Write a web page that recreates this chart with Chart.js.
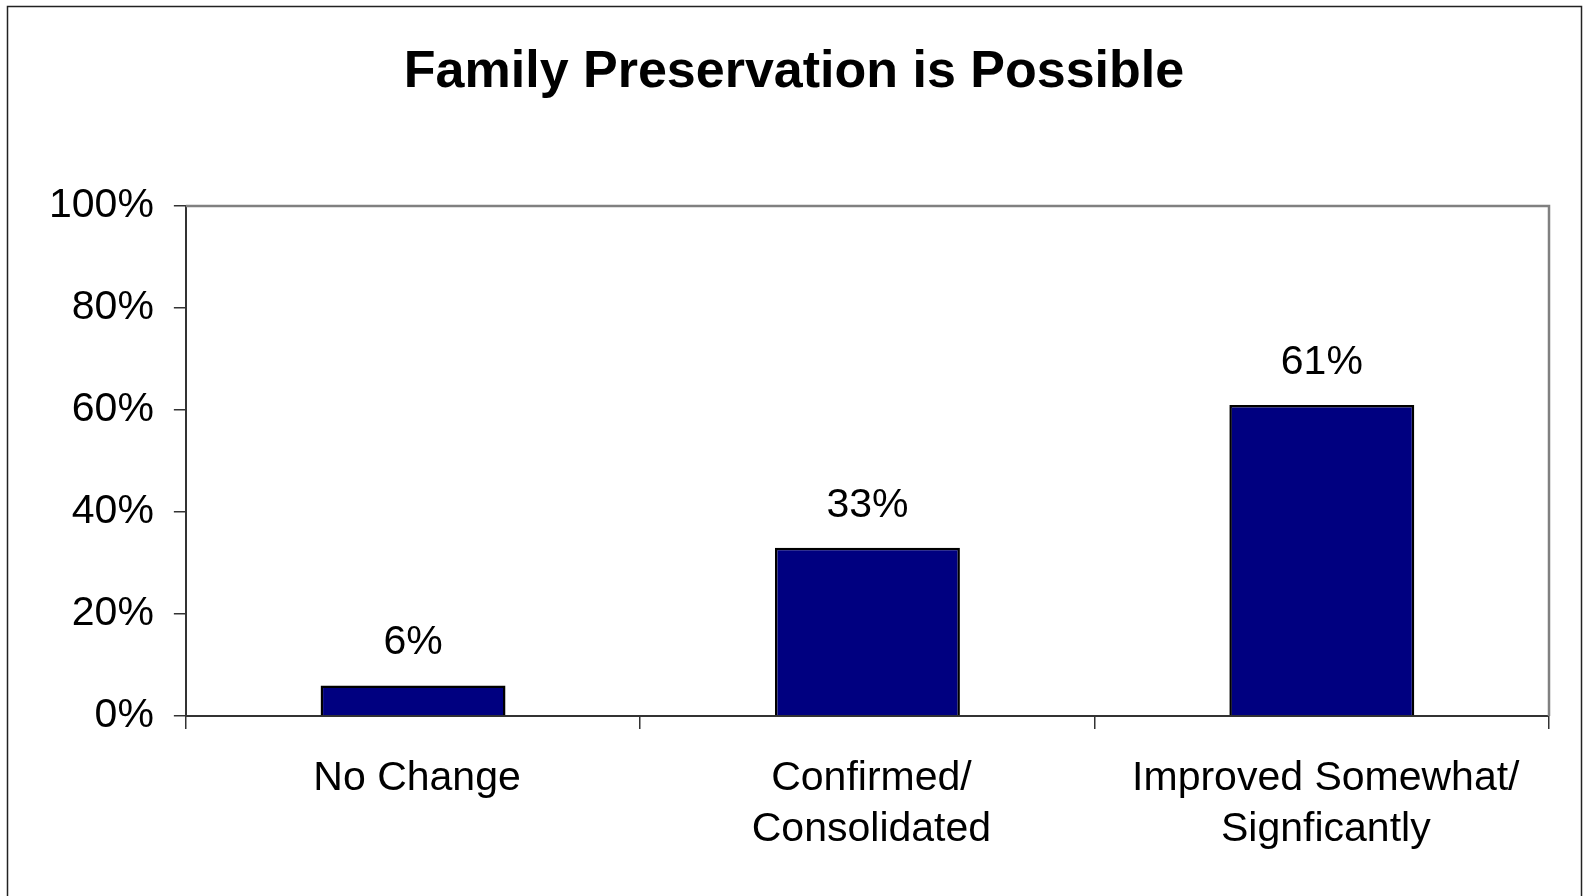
<!DOCTYPE html>
<html>
<head>
<meta charset="utf-8">
<script src="https://cdn.jsdelivr.net/npm/chart.js@4/dist/chart.umd.min.js"></script>
<style>
    html, body { margin: 0; padding: 0; background: #fff; }
    #wrap { width: 1588px; height: 896px; }
</style>
</head>
<body>
<div id="wrap"><canvas id="canvas-1" width="1588" height="896"></canvas></div>
<script>
var chartTitle = 'Family Preservation is Possible';
var categories = [['No Change'], ['Confirmed/', 'Consolidated'], ['Improved Somewhat/', 'Signficantly']];
var percentValues = [6, 33, 61];
var yTicks = [0, 20, 40, 60, 80, 100];

var fontFamily = '"Liberation Sans", Arial, sans-serif';

// outer frame, centred title and grey plot border (Excel style)
var framePlugin = {
    id: 'frame',
    beforeDraw: function (chart) {
        var ctx = chart.ctx;
        ctx.save();
        ctx.fillStyle = '#fff';
        ctx.fillRect(0, 0, chart.width, chart.height);
        ctx.strokeStyle = '#222';
        ctx.lineWidth = 1.5;
        ctx.strokeRect(7.5, 6.5, 1574, 900);
        ctx.fillStyle = '#000';
        ctx.font = 'bold 52px ' + fontFamily;
        ctx.textAlign = 'center';
        ctx.textBaseline = 'alphabetic';
        ctx.fillText(chartTitle, chart.width / 2, 87);
        ctx.restore();
    },
    beforeDatasetsDraw: function (chart) {
        var a = chart.chartArea;
        var ctx = chart.ctx;
        ctx.save();
        ctx.strokeStyle = '#808080';
        ctx.lineWidth = 2.5;
        ctx.beginPath();
        ctx.moveTo(a.left, a.top);
        ctx.lineTo(a.right, a.top);
        ctx.lineTo(a.right, a.bottom);
        ctx.stroke();
        ctx.restore();
    }
};

// value labels above the bars
var valueLabels = {
    id: 'valueLabels',
    afterDatasetsDraw: function (chart) {
        var ctx = chart.ctx;
        var meta = chart.getDatasetMeta(0);
        ctx.save();
        ctx.font = '41px ' + fontFamily;
        ctx.fillStyle = '#000';
        ctx.textAlign = 'center';
        ctx.textBaseline = 'alphabetic';
        meta.data.forEach(function (bar, i) {
            ctx.fillText(percentValues[i] + '%', bar.x, bar.y - 31);
        });
        ctx.restore();
    }
};

var barChart = new Chart(document.getElementById('canvas-1'), {
    type: 'bar',
    data: {
        labels: categories,
        datasets: [{
            data: percentValues,
            backgroundColor: '#000080',
            borderColor: '#000',
            borderWidth: 2.5,
            barPercentage: 0.407,
            categoryPercentage: 1
        }]
    },
    options: {
        responsive: false,
        animation: false,
        devicePixelRatio: 1,
        layout: {
            padding: { left: 29, right: 39, top: 206, bottom: 17 }
        },
        plugins: {
            legend: { display: false },
            tooltip: { enabled: false },
            title: { display: false }
        },
        scales: {
            x: {
                grid: {
                    offset: true,
                    drawOnChartArea: false,
                    drawTicks: true,
                    tickLength: 13,
                    color: '#333',
                    lineWidth: 1.5
                },
                border: { display: true, color: '#333', width: 2 },
                ticks: {
                    color: '#000',
                    padding: 24,
                    labelOffset: 4,
                    maxRotation: 0,
                    autoSkip: false,
                    font: { family: fontFamily, size: 41, lineHeight: 1.244 }
                }
            },
            y: {
                min: 0,
                max: 100,
                afterBuildTicks: function (scale) {
                    scale.ticks = yTicks.map(function (v) { return { value: v }; });
                },
                grid: {
                    drawOnChartArea: false,
                    drawTicks: true,
                    tickLength: 12,
                    color: '#333',
                    lineWidth: 1.5
                },
                border: { display: true, color: '#333', width: 2 },
                ticks: {
                    color: '#000',
                    padding: 20,
                    font: { family: fontFamily, size: 41 },
                    callback: function (v) { return v + '%'; }
                }
            }
        }
    },
    plugins: [framePlugin, valueLabels]
});
</script>
</body>
</html>
